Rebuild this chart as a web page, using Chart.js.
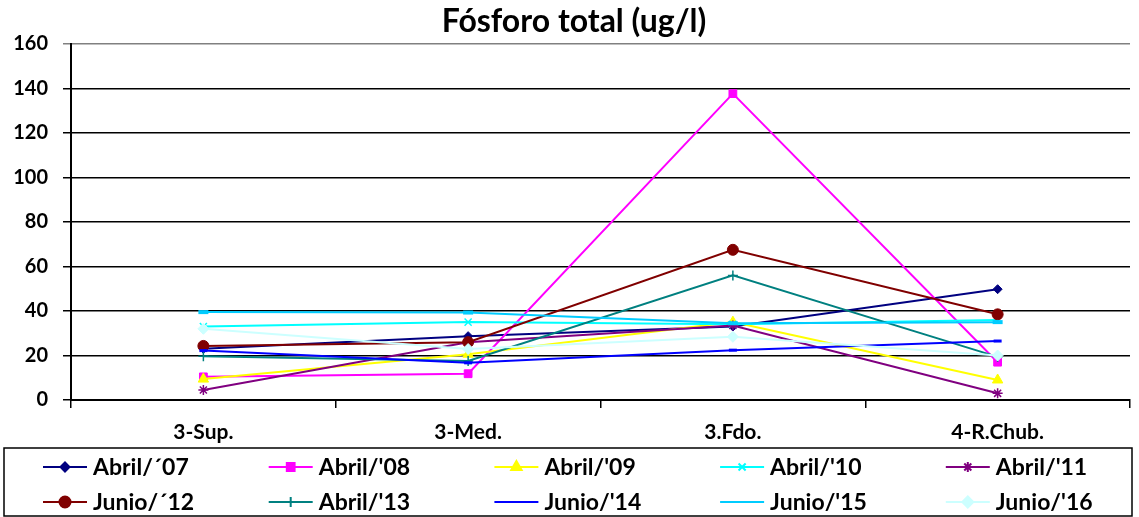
<!DOCTYPE html>
<html>
<head>
<meta charset="utf-8">
<script src="https://cdn.jsdelivr.net/npm/chart.js@4"></script>
<style>
  body { margin: 0; background: #fff; }
</style>
</head>
<body>
<canvas id="myChart" width="1139" height="517"></canvas>
<script>
const categories = ["3-Sup.", "3-Med.", "3.Fdo.", "4-R.Chub."];

const abril07 = [23, 28.7, 33, 49.8];
const abril08 = [10.4, 11.8, 137.7, 17];
const abril09 = [9.4, 20.6, 35, 9];
const abril10 = [33, 35, 34, 36];
const abril11 = [4.5, 26, 33.5, 3];
const junio12 = [24.3, 26, 67.5, 38.5];
const abril13 = [19.7, 17.5, 56, 19.4];
const junio14 = [22.2, 16.7, 22.4, 26.5];
const junio15 = [39.5, 39.3, 34.5, 35];
const junio16 = [32, 22.9, 28.4, 20];

const seriesNames = ["Abril/´07", "Abril/'08", "Abril/'09", "Abril/'10", "Abril/'11",
  "Junio/´12", "Abril/'13", "Junio/'14", "Junio/'15", "Junio/'16"];
const seriesData = [abril07, abril08, abril09, abril10, abril11,
  junio12, abril13, junio14, junio15, junio16];
const seriesColors = ["#000080", "#FF00FF", "#FFFF00", "#00FFFF", "#800080",
  "#800000", "#008080", "#0000FF", "#00CCFF", "#CCFFFF"];
const seriesMarkers = ["rectRot", "rect", "triangle", "crossRot", "star",
  "circle", "cross", "line", "line", "rectRot"];
const markerSizes = [4.5, 5.5, 6, 5, 5, 5.5, 5, 4, 5, 5.5];
const markerWidths = [1, 1, 1, 1.5, 1.5, 1, 1.5, 3, 4, 1];

const yTicks = [0, 20, 40, 60, 80, 100, 120, 140, 160];
const titleText = "Fósforo total (ug/l)";

const FONT = "Lato, 'Open Sans', sans-serif";

// title + boxed legend (5 columns x 2 rows) drawn on the canvas
const boxLegend = {
  id: "boxLegend",
  afterDraw(chart) {
    const c = chart.ctx;
    c.save();
    c.fillStyle = "#000";
    c.textAlign = "center";
    c.textBaseline = "middle";
    c.font = "bold 32px " + FONT;
    c.fillText(titleText, 574, 22);

    c.textAlign = "left";
    c.strokeStyle = "#000";
    c.lineWidth = 1.5;
    c.strokeRect(4, 448, 1128, 68);
    c.font = "bold 23px " + FONT;
    seriesNames.forEach(function (name, i) {
      const col = i % 5;
      const row = Math.floor(i / 5);
      const x = 43 + col * 225.7;
      const y = row === 0 ? 467 : 502;
      c.strokeStyle = seriesColors[i];
      c.lineWidth = 2;
      c.beginPath();
      c.moveTo(x, y);
      c.lineTo(x + 44, y);
      c.stroke();
      c.fillStyle = seriesColors[i];
      Chart.helpers.drawPoint(c, {
        pointStyle: seriesMarkers[i],
        radius: markerSizes[i],
        rotation: 0,
        borderWidth: markerWidths[i],
      }, x + 22, y);
      c.fillStyle = "#000";
      c.fillText(name, x + 50, y + 1);
    });
    c.restore();
  },
};

const ctx = document.getElementById("myChart");

const myChart = new Chart(ctx, {
  type: "line",
  data: {
    labels: categories,
    datasets: seriesData.map(function (vals, i) {
      return {
        label: seriesNames[i],
        data: vals,
        borderColor: seriesColors[i],
        backgroundColor: seriesColors[i],
        borderWidth: 2,
        tension: 0,
        pointStyle: seriesMarkers[i],
        pointRadius: markerSizes[i],
        pointBorderWidth: markerWidths[i],
        pointBorderColor: seriesColors[i],
        pointBackgroundColor: seriesColors[i],
        order: 10 - i, // later series on top, like the original
      };
    }),
  },
  options: {
    responsive: false,
    maintainAspectRatio: false,
    animation: false,
    layout: {
      padding: { left: 0, right: 0, top: 44, bottom: 69 },
    },
    scales: {
      x: {
        offset: true,
        grid: {
          offset: true,
          drawOnChartArea: false,
          drawTicks: true,
          tickLength: 8,
          color: "#000",
          lineWidth: 1.5,
        },
        border: { display: true, color: "#000", width: 2 },
        ticks: {
          color: "#000",
          padding: 12,
          maxRotation: 0,
          font: { family: FONT, size: 21, weight: "bold" },
        },
        afterFit: function (scale) {
          scale.height = 48;
        },
      },
      y: {
        min: 0,
        max: 160,
        afterBuildTicks: function (scale) {
          scale.ticks = yTicks.map(function (v) { return { value: v }; });
        },
        grid: {
          color: function (c) {
            return c.tick && c.tick.value === 160 ? "#808080" : "#000";
          },
          lineWidth: 1.5,
          drawTicks: true,
          tickLength: 8,
        },
        border: { display: true, color: "#000", width: 2 },
        ticks: {
          color: "#000",
          padding: 15,
          font: { family: FONT, size: 20, weight: "bold" },
        },
        afterFit: function (scale) {
          scale.width = 71;
        },
      },
    },
    plugins: {
      legend: { display: false },
      tooltip: { enabled: false },
      title: { display: false },
    },
  },
  plugins: [boxLegend],
});
</script>
</body>
</html>
